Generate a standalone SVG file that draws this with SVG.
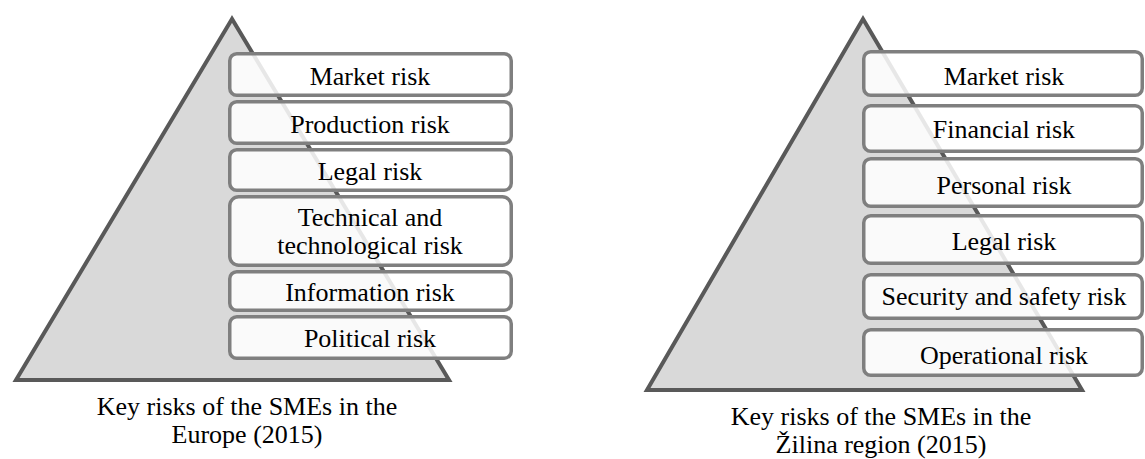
<svg xmlns="http://www.w3.org/2000/svg" width="1145" height="459" viewBox="0 0 1145 459">
  <style>
    .pyramid { fill: #d9d9d9; stroke: #595959; stroke-width: 4; stroke-linejoin: miter; }
    .box { fill: #ffffff; fill-opacity: 0.86; stroke: #7f7f7f; stroke-width: 3.5; }
    .label { font-family: "Liberation Serif", "DejaVu Serif", serif; font-size: 26px; fill: #000000; text-anchor: middle; }
  </style>
  <rect width="1145" height="459" fill="#ffffff"/>

  <!-- Left pyramid: Europe -->
  <g id="pyramid-europe">
    <polygon class="pyramid" points="232,19 16,380 449,380"/>
  </g>
  <g id="europe-market">
    <rect class="box" x="229.75" y="53.75" width="281.5" height="41.5" rx="7"/>
    <text class="label" x="370" y="85">Market risk</text>
  </g>
  <g id="europe-production">
    <rect class="box" x="229.75" y="101.75" width="281.5" height="41.5" rx="7"/>
    <text class="label" x="370" y="133">Production risk</text>
  </g>
  <g id="europe-legal">
    <rect class="box" x="229.75" y="149.75" width="281.5" height="40.5" rx="7"/>
    <text class="label" x="370" y="180">Legal risk</text>
  </g>
  <g id="europe-technical">
    <rect class="box" x="229.75" y="196.75" width="281.5" height="68.5" rx="9"/>
    <text class="label" x="370" y="226">Technical and</text>
    <text class="label" x="370" y="254">technological risk</text>
  </g>
  <g id="europe-information">
    <rect class="box" x="229.75" y="271.75" width="281.5" height="38.5" rx="7"/>
    <text class="label" x="370" y="301">Information risk</text>
  </g>
  <g id="europe-political">
    <rect class="box" x="229.75" y="316.75" width="281.5" height="41.5" rx="7"/>
    <text class="label" x="370" y="347">Political risk</text>
  </g>
  <g id="caption-europe">
    <text class="label" x="247" y="415">Key risks of the SMEs in the</text>
    <text class="label" x="247" y="443">Europe (2015)</text>
  </g>

  <!-- Right pyramid: Žilina region -->
  <g id="pyramid-zilina">
    <polygon class="pyramid" points="863,19 647,390 1082,390"/>
  </g>
  <g id="zilina-market">
    <rect class="box" x="863.75" y="51.75" width="278.5" height="43.5" rx="7"/>
    <text class="label" x="1004" y="85">Market risk</text>
  </g>
  <g id="zilina-financial">
    <rect class="box" x="863.75" y="105.75" width="278.5" height="45.5" rx="7"/>
    <text class="label" x="1004" y="138">Financial risk</text>
  </g>
  <g id="zilina-personal">
    <rect class="box" x="863.75" y="158.75" width="278.5" height="47.5" rx="7"/>
    <text class="label" x="1004" y="194">Personal risk</text>
  </g>
  <g id="zilina-legal">
    <rect class="box" x="863.75" y="215.75" width="278.5" height="47.5" rx="7"/>
    <text class="label" x="1004" y="250">Legal risk</text>
  </g>
  <g id="zilina-security">
    <rect class="box" x="863.75" y="274.75" width="278.5" height="43.5" rx="7"/>
    <text class="label" x="1004" y="305">Security and safety risk</text>
  </g>
  <g id="zilina-operational">
    <rect class="box" x="863.75" y="329.75" width="278.5" height="45.5" rx="7"/>
    <text class="label" x="1004" y="364">Operational risk</text>
  </g>
  <g id="caption-zilina">
    <text class="label" x="881" y="425">Key risks of the SMEs in the</text>
    <text class="label" x="881" y="453">Žilina region (2015)</text>
  </g>

  <!-- no connectors in this figure -->
  <g id="connectors"/>
</svg>
